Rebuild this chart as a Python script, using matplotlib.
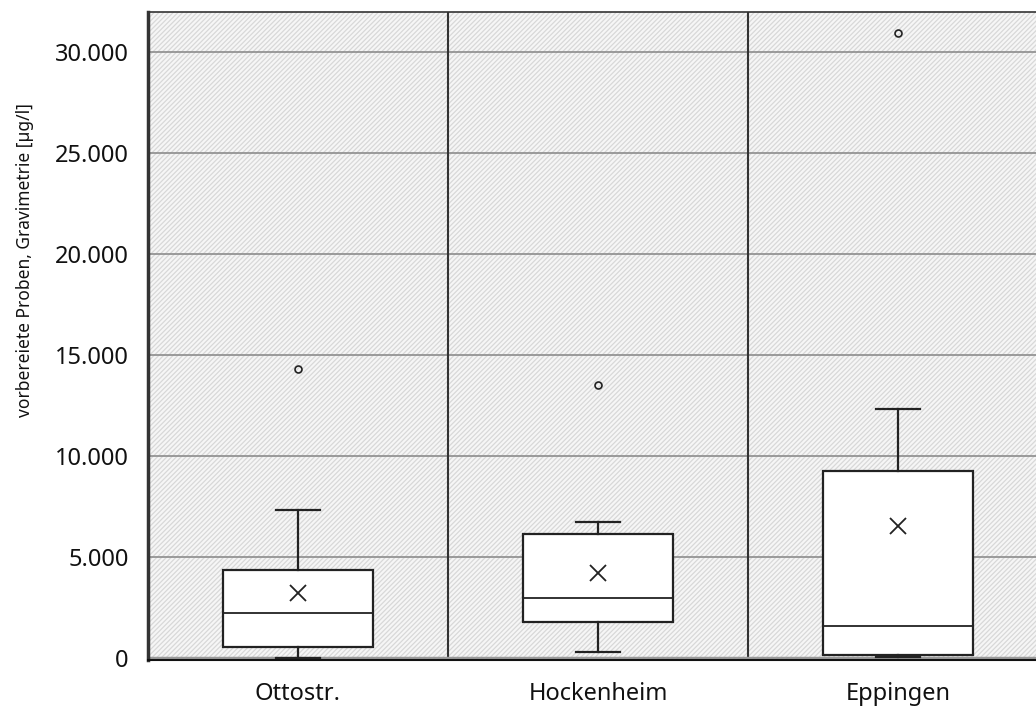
import matplotlib
matplotlib.use("Agg")
import matplotlib.pyplot as plt
from matplotlib.patches import Rectangle
from matplotlib.ticker import FuncFormatter

plt.rcParams['font.family'] = ['Noto Sans', 'DejaVu Sans']
plt.rcParams['hatch.linewidth'] = 0.9

# per-site statistics (µg/l)
sites = ["Ottostr.", "Hockenheim", "Eppingen"]
whis_lo = [20, 300, 50]
q1 = [550, 1780, 150]
median = [2230, 2970, 1580]
q3 = [4360, 6140, 9260]
whis_hi = [7330, 6730, 12330]
mean = [3220, 4210, 6540]
outliers = [[14300], [13500], [30950]]

stats = []
for i, name in enumerate(sites):
    stats.append(dict(label=name, whislo=whis_lo[i], q1=q1[i], med=median[i],
                      q3=q3[i], whishi=whis_hi[i], mean=mean[i], fliers=outliers[i]))

fig = plt.figure(figsize=(10.36, 7.08), dpi=100)
ax = fig.add_axes([148 / 1036, 1 - 660 / 708, 900 / 1036, 648 / 708])

# hatched background
bg = Rectangle((0, 0), 1, 1, transform=ax.transAxes, facecolor='#f6f6f6',
               edgecolor='#d8d8d8', hatch='///////', linewidth=0, zorder=0)
ax.add_patch(bg)

for y in range(5000, 35000, 5000):
    ax.axhline(y, color='#8c8c8c', lw=1.2, zorder=1)
for x in [1.5, 2.5, 3.5]:
    ax.axvline(x, color='#333333', lw=1.5, zorder=1)
ax.axhline(0, color='#9a9a9a', lw=2.5, zorder=1)

ax.bxp(stats, positions=[1, 2, 3], widths=0.5, capwidths=0.145,
       showmeans=True, patch_artist=True, zorder=3,
       boxprops=dict(facecolor='white', edgecolor='#222222', linewidth=1.6),
       medianprops=dict(color='#222222', linewidth=1.3),
       whiskerprops=dict(color='#222222', linewidth=1.6),
       capprops=dict(color='#222222', linewidth=1.6),
       meanprops=dict(marker='x', markeredgecolor='#222222', markersize=11,
                      markeredgewidth=1.3),
       flierprops=dict(marker='o', markerfacecolor='none', markeredgecolor='#222222',
                       markersize=5, markeredgewidth=1.2))

ax.set_xlim(0.5, 3.5)
ax.set_ylim(-100, 32000)
ax.set_yticks(range(0, 35000, 5000))
ax.yaxis.set_major_formatter(FuncFormatter(lambda v, p: f"{int(v):,}".replace(",", ".")))
ax.tick_params(axis='both', length=0, labelsize=17, labelcolor='#111111')
ax.tick_params(axis='y', pad=14)
ax.tick_params(axis='x', pad=16)
ax.set_ylabel("vorbereiete Proben, Gravimetrie [µg/l]", fontsize=12.5, color='#111111')
ax.yaxis.set_label_coords(-0.127, 0.617)

for side in ['top', 'right']:
    ax.spines[side].set_color('#333333')
    ax.spines[side].set_linewidth(1.2)
ax.spines['left'].set_color('#333333')
ax.spines['left'].set_linewidth(2.5)
ax.spines['bottom'].set_color('#111111')
ax.spines['bottom'].set_linewidth(1.5)

fig.savefig("out.png", dpi=100)
